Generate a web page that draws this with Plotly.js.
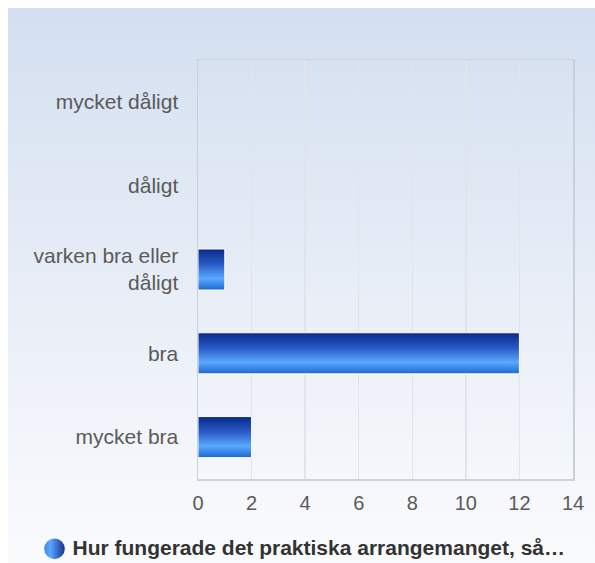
<!DOCTYPE html>
<html>
<head>
<meta charset="utf-8">
<script src="https://cdn.plot.ly/plotly-3.0.1.min.js"></script>
<style>
  html, body { margin: 0; padding: 0; overflow: hidden; background: #ffffff; }
  #wrap { position: absolute; left: 8px; top: 8px; width: 587px; height: 555px;
          background: linear-gradient(to bottom, #d3dff0 0%, #e6ecf6 45%, #fafbfd 100%); }
  #chart { width: 587px; height: 555px; }
</style>
</head>
<body>
<div id="wrap"><div id="chart"></div></div>
<script>
// Data
const categories = ["mycket dåligt", "dåligt", "varken bra eller dåligt", "bra", "mycket bra"];
const categoryLabels = ["mycket dåligt", "dåligt", "varken bra eller<br>dåligt", "bra", "mycket bra"];
const values = [0, 0, 1, 12, 2];
const seriesName = "Hur fungerade det praktiska arrangemanget, så…";
const xTicks = [0, 2, 4, 6, 8, 10, 12, 14];

const font = "Liberation Sans, Arial, Helvetica, sans-serif";

const trace = {
  type: "bar",
  orientation: "h",
  y: categories,
  x: values,
  name: seriesName,
  marker: { color: "#3a78e0", line: { color: "#ffffff", width: 1 } },
  hoverinfo: "x+y",
  showlegend: true
};

const layout = {
  width: 587,
  height: 555,
  margin: { l: 190, r: 22, t: 52, b: 84 },
  paper_bgcolor: "rgba(0,0,0,0)",
  plot_bgcolor: "rgba(0,0,0,0)",
  bargap: 0.51,
  font: { family: font, size: 20, color: "#5a5a5a" },
  xaxis: {
    range: [0, 14],
    tickvals: xTicks,
    ticktext: xTicks.map(String),
    showgrid: true,
    gridcolor: "#e1e5eb",
    gridwidth: 1.5,
    zeroline: false,
    showline: true,
    linecolor: "#cdd2da",
    linewidth: 1.5,
    mirror: true,
    ticks: "",
    ticklabelstandoff: 5,
    tickfont: { family: font, size: 20, color: "#5a5a5a" },
    fixedrange: true
  },
  yaxis: {
    type: "category",
    categoryorder: "array",
    categoryarray: categories,
    tickvals: categories,
    ticktext: categoryLabels,
    autorange: "reversed",
    showgrid: false,
    zeroline: false,
    showline: true,
    linecolor: "#c8d0dc",
    linewidth: 1.5,
    mirror: true,
    ticks: "",
    ticklabelstandoff: 14,
    tickfont: { family: font, size: 21, color: "#5a5a5a" },
    fixedrange: true
  },
  showlegend: true,
  legend: {
    orientation: "h",
    xref: "container",
    yref: "container",
    x: 0.5,
    xanchor: "center",
    y: 0,
    yanchor: "bottom",
    bgcolor: "rgba(0,0,0,0)",
    font: { family: font, size: 21, color: "#333333", weight: "bold" }
  }
};

Plotly.newPlot("chart", [trace], layout, { displayModeBar: false, staticPlot: true }).then(function (gd) {
  const svgNS = "http://www.w3.org/2000/svg";
  const svg = gd.querySelector("svg.main-svg");
  let defs = svg.querySelector("defs");
  if (!defs) { defs = document.createElementNS(svgNS, "defs"); svg.insertBefore(defs, svg.firstChild); }
  function grad(id, x2, y2, stops) {
    const g = document.createElementNS(svgNS, "linearGradient");
    g.setAttribute("id", id);
    g.setAttribute("x1", "0"); g.setAttribute("y1", "0");
    g.setAttribute("x2", x2); g.setAttribute("y2", y2);
    stops.forEach(function (s) {
      const st = document.createElementNS(svgNS, "stop");
      st.setAttribute("offset", s[0]);
      st.setAttribute("stop-color", s[1]);
      g.appendChild(st);
    });
    defs.appendChild(g);
  }
  grad("barGrad", "0", "1", [["0", "#0a2a8a"], ["0.35", "#2656c2"], ["0.72", "#5aa8ff"], ["1", "#1f66d2"]]);
  grad("legGrad", "1", "0", [["0", "#3f86ea"], ["0.3", "#5aa6ff"], ["1", "#14348f"]]);
  gd.querySelectorAll(".barlayer .point path").forEach(function (p) {
    p.style.fill = "url(#barGrad)";
    const b = p.getBBox();
    if (b.width < 1) { p.style.strokeWidth = "0px"; }
  });
  gd.querySelectorAll(".legend [clip-path]").forEach(function (e) { e.removeAttribute("clip-path"); });
  const leg = gd.querySelector("g.legend");
  if (leg) {
    leg.style.overflow = "visible";
    const t = leg.getAttribute("transform") || "";
    leg.setAttribute("transform", t + " translate(0,5)");
  }
  const txt = gd.querySelector(".legend .legendtext");
  gd.querySelectorAll(".legend .legendpoints path").forEach(function (p) {
    p.setAttribute("d", "M10.3,0A10.3,10.3 0 1,1 -10.3,0A10.3,10.3 0 1,1 10.3,0Z");
    p.removeAttribute("transform");
    p.style.fill = "url(#legGrad)";
    p.style.stroke = "none";
    if (txt) {
      const tb = txt.getBoundingClientRect();
      const pb = p.getBoundingClientRect();
      const dx = (tb.left - 18) - (pb.left + pb.right) / 2;
      const dy = (tb.top + tb.bottom) / 2 + 1 - (pb.top + pb.bottom) / 2;
      p.setAttribute("transform", "translate(" + dx + "," + dy + ")");
    }
  });
});
</script>
</body>
</html>
